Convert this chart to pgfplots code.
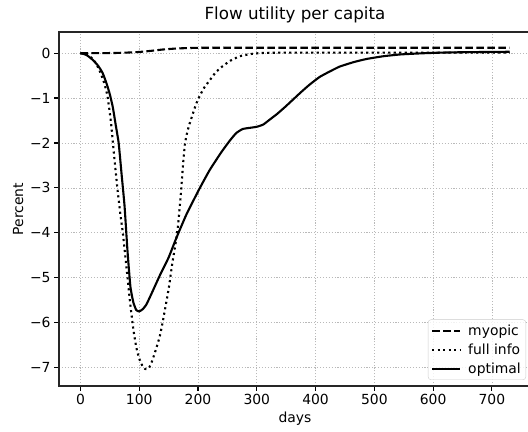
\documentclass[border=0pt]{standalone}
\usepackage{pgfplots}
\pgfplotsset{compat=1.18}
\usepackage{fontspec}
\setmainfont{DejaVu Sans}

% days, percent
\pgfplotstableread{
x y
0 0
40 0
60 0.003
80 0.012
100 0.025
120 0.05
140 0.08
160 0.10
180 0.112
200 0.118
250 0.12
730 0.12
}\myopic

\pgfplotstableread{
x y
0 0
15 -0.06
25 -0.2
32 -0.37
40 -0.65
46 -0.96
52 -1.55
57 -2.25
63 -3.03
68 -3.6
72 -3.99
78 -4.73
84 -5.5
90 -6.15
95 -6.55
100 -6.8
105 -6.95
110 -7.03
116 -7.02
122 -6.85
129 -6.57
135 -6.3
140 -5.98
146 -5.55
151 -5.17
156 -4.7
161 -4.3
166 -3.84
171 -3.1
175 -2.4
178 -2.0
181 -1.8
185 -1.6
190 -1.4
195 -1.2
200 -1.03
210 -0.78
219 -0.62
230 -0.43
242 -0.29
255 -0.17
271 -0.07
290 -0.02
305 0.0
350 0.01
730 0.01
}\fullinfo

\pgfplotstableread{
x y
0 0
10 -0.04
20 -0.14
30 -0.28
38 -0.45
45 -0.70
50 -0.92
55 -1.2
60 -1.6
65 -2.0
70 -2.7
75 -3.4
80 -4.4
85 -5.2
90 -5.55
95 -5.72
100 -5.75
106 -5.70
112 -5.60
120 -5.38
135 -4.95
150 -4.55
163 -4.12
180 -3.6
202 -3.03
220 -2.6
240 -2.2
254 -1.95
265 -1.78
276 -1.69
290 -1.66
300 -1.64
311 -1.59
322 -1.48
334 -1.36
348 -1.20
362 -1.03
376 -0.86
390 -0.70
407 -0.53
424 -0.41
441 -0.30
465 -0.20
487 -0.13
515 -0.07
544 -0.03
580 -0.005
612 0.01
650 0.02
690 0.025
730 0.03
}\optimal

\begin{document}
\begin{tikzpicture}
\begin{axis}[
  scale only axis, width=472pt, height=354pt,
  xmin=-36.5, xmax=766.5, ymin=-7.41, ymax=0.47,
  xtick={0,100,200,300,400,500,600,700},
  xticklabels={0,100,200,300,400,500,600,700},
  ytick={-7,-6,-5,-4,-3,-2,-1,0},
  yticklabels={−7,−6,−5,−4,−3,−2,−1,0},
  tick align=outside, major tick length=4.9pt,
  tick style={black, line width=1.1pt},
  xtick pos=bottom, ytick pos=left,
  axis line style={black!85, line width=1.1pt},
  grid=major,
  major grid style={gray!55, line width=0.7pt, dash pattern=on 1.1pt off 1.8pt},
  ticklabel style={font=\fontsize{13.9}{16}\selectfont},
  title={Flow utility per capita},
  title style={font=\fontsize{16.7}{19}\selectfont, yshift=-1pt},
  xlabel={days}, ylabel={Percent},
  label style={font=\fontsize{13.9}{16}\selectfont},
  legend cell align=left,
  legend style={at={(1,0)}, anchor=south east, xshift=-5pt, yshift=6pt,
    draw=black!20, rounded corners=3pt, fill=white, fill opacity=0.8, text opacity=1,
    font=\fontsize{13.9}{16}\selectfont, row sep=3pt, inner sep=3pt,
    /tikz/every odd column/.append style={column sep=5pt}},
  legend image code/.code={\draw[#1] (0pt,0pt) -- (28pt,0pt);},
]
\addplot[black, line width=2.1pt, dash pattern=on 7.7pt off 3.3pt] table {\myopic};
\addlegendentry{myopic}
\addplot[black, line width=2.1pt, dash pattern=on 2.1pt off 3.4pt, smooth, tension=0.3] table {\fullinfo};
\addlegendentry{full info}
\addplot[black, line width=2.1pt, smooth, tension=0.3] table {\optimal};
\addlegendentry{optimal}
\end{axis}
\pgfresetboundingbox
\path ([xshift=-59pt,yshift=-46pt]current axis.south west) rectangle ([xshift=-3pt,yshift=32pt]current axis.north east);
\end{tikzpicture}
\end{document}
